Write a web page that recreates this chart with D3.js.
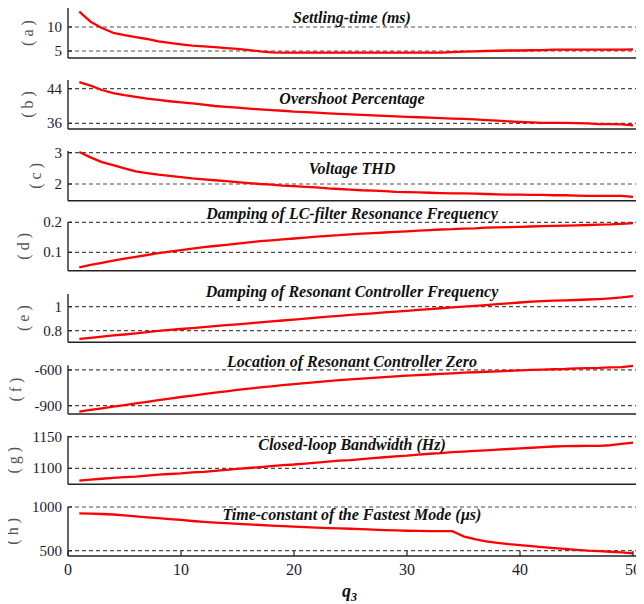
<!DOCTYPE html>
<html><head><meta charset="utf-8">
<script src="https://cdn.jsdelivr.net/npm/d3@7"></script>
</head>
<body>
<svg id="chart" width="636" height="596" viewBox="8 8 636 596"></svg>
<script>
// ---------------- data ----------------
const q3 = [1,2,3,4,5,6,7,8,9,10,11,12,13,14,15,16,17,18,19,20,21,22,23,24,25,26,27,28,29,30,31,32,33,34,35,36,37,38,39,40,41,42,43,44,45,46,47,48,49,50];
const xTicks = [0,10,20,30,40,50];

const settlingTime = [13.2,11.1,9.8,8.8,8.3,7.9,7.5,7.0,6.7,6.4,6.1,5.95,5.8,5.6,5.45,5.2,4.9,4.7,4.65,4.65,4.65,4.65,4.65,4.65,4.65,4.65,4.65,4.65,4.65,4.65,4.65,4.65,4.65,4.75,4.85,4.9,5.0,5.05,5.1,5.1,5.15,5.2,5.3,5.3,5.3,5.3,5.3,5.3,5.3,5.35];
const overshoot = [45.5,44.7,43.7,43.0,42.5,42.1,41.7,41.4,41.1,40.85,40.6,40.3,40.0,39.8,39.6,39.4,39.2,39.05,38.9,38.7,38.6,38.45,38.3,38.2,38.05,37.95,37.85,37.7,37.6,37.5,37.4,37.3,37.2,37.1,37.0,36.9,36.75,36.6,36.45,36.3,36.2,36.1,36.1,36.1,36.05,36.0,35.8,35.8,35.75,35.5];
const voltageTHD = [3.02,2.85,2.7,2.6,2.5,2.4,2.35,2.3,2.26,2.22,2.18,2.15,2.12,2.09,2.06,2.03,2.0,1.98,1.95,1.93,1.91,1.89,1.86,1.84,1.82,1.8,1.79,1.77,1.75,1.74,1.73,1.72,1.71,1.7,1.7,1.69,1.68,1.67,1.66,1.66,1.65,1.65,1.64,1.64,1.63,1.62,1.62,1.62,1.62,1.59];
const dampingLC = [0.05,0.058,0.065,0.072,0.079,0.085,0.091,0.097,0.102,0.107,0.112,0.117,0.121,0.125,0.129,0.133,0.137,0.14,0.143,0.146,0.149,0.152,0.155,0.157,0.16,0.162,0.164,0.166,0.168,0.17,0.172,0.174,0.176,0.177,0.179,0.18,0.182,0.183,0.184,0.185,0.186,0.187,0.188,0.189,0.19,0.191,0.192,0.193,0.195,0.197];
const dampingRes = [0.731,0.74,0.75,0.76,0.768,0.778,0.788,0.798,0.806,0.814,0.822,0.83,0.838,0.846,0.853,0.861,0.869,0.877,0.885,0.893,0.901,0.909,0.917,0.924,0.931,0.938,0.945,0.952,0.959,0.966,0.973,0.98,0.987,0.994,1.0,1.007,1.014,1.021,1.028,1.035,1.042,1.046,1.05,1.053,1.056,1.06,1.064,1.07,1.077,1.089];
const zeroLoc = [-950,-936,-922,-908,-895,-881,-867,-854,-840,-827,-815,-803,-791,-779,-768,-757,-747,-737,-727,-718,-710,-702,-694,-686,-679,-672,-666,-660,-654,-648,-643,-638,-633,-628,-623,-619,-615,-611,-607,-603,-600,-597,-594,-592,-587,-585,-583,-578,-576,-566];
const bandwidth = [1080.5,1082,1083.5,1085,1086,1087,1088.5,1090,1091,1092,1093.5,1094.5,1096,1097.5,1099,1100.5,1102,1103.5,1105,1106,1107.5,1109,1110.5,1112,1113,1114.5,1116,1117.5,1119,1120,1121.5,1123,1124,1125.5,1126.5,1127.5,1128.5,1129.5,1130.5,1131.5,1132.5,1133.5,1134.5,1135,1135.3,1135.5,1135.5,1136.5,1138.5,1140.5];
const timeConst = [928,925,920,914,905,893,882,873,862,852,840,830,822,815,808,801,794,788,781,775,769,763,759,755,751,746,741,736,732,728,726,725,725,724,665,632,607,590,575,563,552,540,530,520,510,500,495,488,480,470];

const panelLetters = ["a","b","c","d","e","f","g","h"];
const panelTitles = ["Settling-time (ms)","Overshoot Percentage","Voltage THD","Damping of LC-filter Resonance Frequency","Damping of Resonant Controller Frequency","Location of Resonant Controller Zero","Closed-loop Bandwidth (Hz)","Time-constant of the Fastest Mode (\u00b5s)"];
const panelTicks = [[5,10],[36,44],[2,3],[0.1,0.2],[0.8,1],[-900,-600],[1100,1150],[500,1000]];
const panelSeries = [settlingTime, overshoot, voltageTHD, dampingLC, dampingRes, zeroLoc, bandwidth, timeConst];
const panelDomains = [[3.54,13.96],[34.68,46.01],[1.466,3.054],[0.0387,0.201],[0.703,1.106],[-969.7,-560],[1074.7,1151.1],[439.4,1003.4]];

// ---------------- layout ----------------
const panelPx = [[8,58],[80,129],[151,200.7],[222,270.7],[294,342.3],[365.2,414],[436,484.3],[506.7,556]];
const titleY = [22.5,104,174,219,297,367,450,519.5];
const left = 68;
const FONT = "Liberation Serif";

const svg = d3.select("#chart").attr("font-family", FONT);
const x = d3.scaleLinear().domain([0,51]).range([left, left + 51*11.3]);
const fmt = d => String(d);

const addText = (sel, size, bold) => {
  const t = sel.append("text").attr("font-family", FONT).attr("font-size", size);
  if (bold) t.attr("font-weight", "bold").attr("font-style", "italic");
  return t;
};

panelSeries.forEach((vals, i) => {
  const [top, bottom] = panelPx[i];
  const y = d3.scaleLinear().domain(panelDomains[i]).range([bottom, top]);
  const g = svg.append("g");

  g.selectAll("line.grid").data(panelTicks[i]).join("line")
    .attr("x1", left).attr("x2", 644)
    .attr("y1", d => y(d)).attr("y2", d => y(d))
    .attr("stroke", "#4a4a4a").attr("stroke-width", 1.2)
    .attr("stroke-dasharray", "4,3");

  // y ticks and labels drawn from the scale
  g.selectAll("line.tk").data(panelTicks[i]).join("line")
    .attr("x1", left).attr("x2", left + 4).attr("y1", d => y(d)).attr("y2", d => y(d))
    .attr("stroke", "#222").attr("stroke-width", 1.2);
  const labels = g.selectAll("text.tl").data(panelTicks[i]).join("text")
    .attr("x", left - 6).attr("y", d => y(d) + 5).attr("text-anchor", "end")
    .attr("font-family", FONT).attr("font-size", 15).attr("fill", "#1c1c2c").text(fmt);

  g.append("line").attr("x1", left).attr("x2", left).attr("y1", top).attr("y2", bottom)
    .attr("stroke", "#333").attr("stroke-width", 1.5);
  g.append("line").attr("x1", left).attr("x2", 644).attr("y1", bottom).attr("y2", bottom)
    .attr("stroke", "#222").attr("stroke-width", 1.6);

  const line = d3.line().x((d, j) => x(q3[j])).y(d => y(d));
  g.append("path").datum(vals).attr("d", line)
    .attr("fill", "none").attr("stroke", "#ff0000").attr("stroke-width", 2.3)
    .attr("stroke-linejoin", "round");

  addText(g, 16, true).attr("x", 352).attr("y", titleY[i]).attr("text-anchor", "middle")
    .attr("fill", "#111").text(panelTitles[i]);

  let minX = left;
  labels.each(function(){ minX = Math.min(minX, this.getBBox().x); });
  addText(g, 16, false).attr("transform", `translate(${minX - 14},${(top+bottom)/2}) rotate(-90)`)
    .attr("text-anchor", "middle").attr("fill", "#555").text(`( ${panelLetters[i]} )`);

  if (i === panelSeries.length - 1) {
    g.selectAll("line.xt").data(xTicks).join("line")
      .attr("x1", d => x(d)).attr("x2", d => x(d)).attr("y1", bottom).attr("y2", bottom - 5)
      .attr("stroke", "#222").attr("stroke-width", 1.2);
    g.selectAll("text.xl").data(xTicks).join("text")
      .attr("x", d => x(d)).attr("y", bottom + 19).attr("text-anchor", "middle")
      .attr("font-family", FONT).attr("font-size", 16).attr("fill", "#1c1c2c").text(fmt);
  }
});

const xl = addText(svg, 18, true).attr("x", 342).attr("y", 597).attr("fill", "#111");
xl.append("tspan").text("q");
xl.append("tspan").attr("font-size", 12).attr("dy", 4).text("3");
</script>
</body></html>
